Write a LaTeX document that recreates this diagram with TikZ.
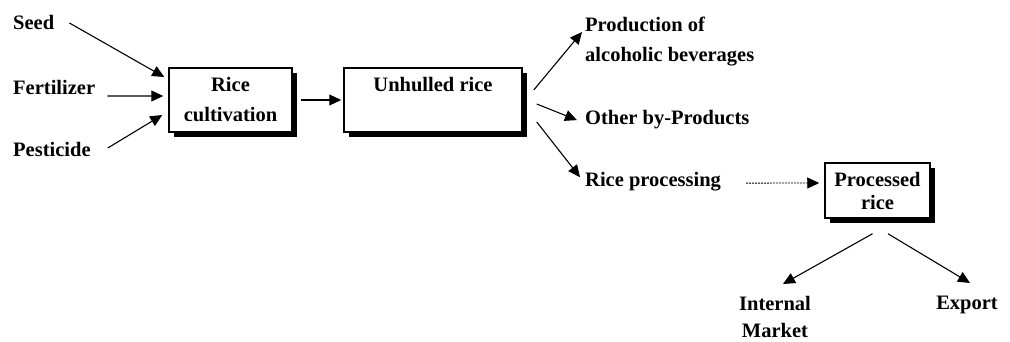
\documentclass[tikz,border=0pt]{standalone}
\usepackage{fontspec}
\setmainfont{Liberation Serif}
\usetikzlibrary{arrows.meta,shadows}
\begin{document}
\begin{tikzpicture}[x=1pt,y=-1pt,
  every node/.style={font=\fontsize{20.5}{30}\selectfont\bfseries, inner sep=0pt},
  lbl/.style={anchor=base west},
  box/.style={draw, line width=1.5pt, fill=white,
    drop shadow={shadow xshift=5pt,shadow yshift=-5pt,fill=black,opacity=1}},
  arr/.style={-{Triangle[length=12pt,width=11pt]}, line width=1.1pt},
  faint/.style={dash pattern=on 2pt off 1pt, line width=0.8pt}]
\useasboundingbox (0,0) rectangle (1010,342);
% boxes
\node[box, minimum width=123pt, minimum height=64pt, align=center] (rc) at (230.5,100) {Rice\\cultivation};
\node[box, minimum width=178pt, minimum height=64pt, text height=14pt, text depth=30pt] (uh) at (433,100) {Unhulled rice};
\node[box, minimum width=105pt, minimum height=55pt, align=center, font=\fontsize{20.5}{23}\selectfont\bfseries] (pr) at (877.5,190.5) {Processed\\rice};
% labels
\node[lbl] (seed) at (13,30) {Seed};
\node[lbl] (fert) at (13,95) {Fertilizer};
\node[lbl] (pest) at (13,157) {Pesticide};
\node[anchor=north west, align=left] (prod) at (585,17) {Production of\\alcoholic beverages};
\node[lbl] (other) at (585,125) {Other by-Products};
\node[lbl] (rproc) at (585,186) {Rice processing};
\node[anchor=north, align=center, font=\fontsize{20.5}{27}\selectfont\bfseries] (intm) at (775,296) {Internal\\Market};
\node[anchor=north] (exp) at (967,296) {Export};
% connectors
\draw[arr] ([xshift=15pt]seed.east) -- ([xshift=-4pt,yshift=23pt]rc.west);
\draw[arr] ([xshift=12pt,yshift=-8pt]fert.east) -- ([xshift=-5pt,yshift=4pt]rc.west);
\draw[arr] ([xshift=17pt,yshift=2pt]pest.east) -- ([xshift=-6pt,yshift=-15pt]rc.west);
\draw[arr] ([xshift=8pt]rc.east) -- ([xshift=-2pt]uh.west);
\draw[arr] ([xshift=11pt,yshift=10pt]uh.east) -- ([xshift=-3pt,yshift=-15pt]prod.north west);
\draw[arr] ([xshift=14pt,yshift=-4pt]uh.east) -- ([xshift=-8pt]other.west);
\draw[arr] ([xshift=14pt,yshift=-22pt]uh.east) -- ([xshift=-5pt,yshift=4pt]rproc.west);
\draw[arr,faint] ([xshift=25pt,yshift=-2pt]rproc.east) -- ([xshift=-5pt,yshift=7.5pt]pr.west);
\draw[arr] ([xshift=-5pt,yshift=-15pt]pr.south) -- ([xshift=8pt,yshift=12pt]intm.north);
\draw[arr] ([xshift=10.5pt,yshift=-15pt]pr.south) -- ([xshift=3pt,yshift=13pt]exp.north);
\end{tikzpicture}
\end{document}
